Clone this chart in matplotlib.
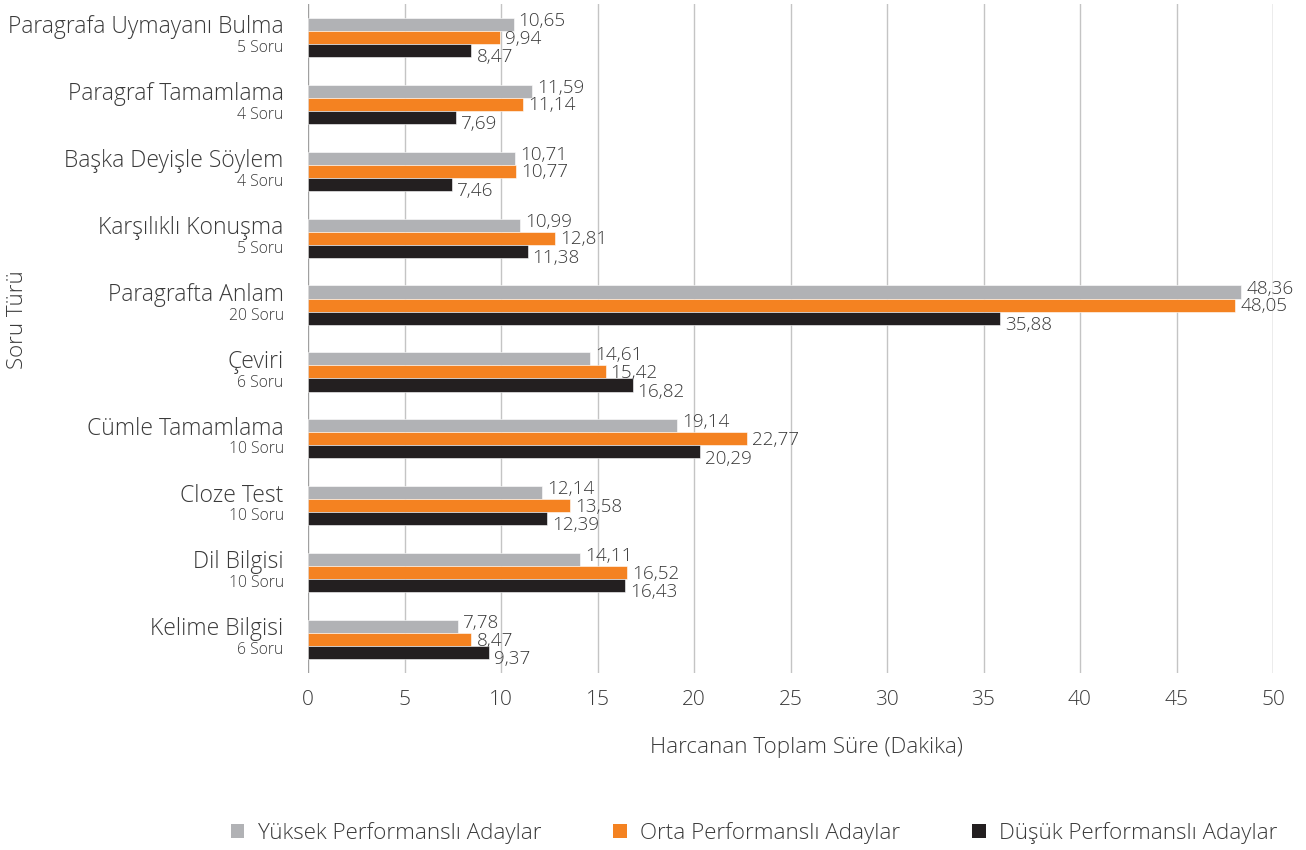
import matplotlib
matplotlib.use("Agg")
import matplotlib.pyplot as plt
from matplotlib.patches import Patch
from matplotlib.transforms import blended_transform_factory

TEXT_FONT = ['Open Sans', 'DejaVu Sans']
plt.rcParams['font.family'] = TEXT_FONT

categories = ["Paragrafa Uymayanı Bulma", "Paragraf Tamamlama", "Başka Deyişle Söylem",
              "Karşılıklı Konuşma", "Paragrafta Anlam", "Çeviri", "Cümle Tamamlama",
              "Cloze Test", "Dil Bilgisi", "Kelime Bilgisi"]
question_counts = ["5 Soru", "4 Soru", "4 Soru", "5 Soru", "20 Soru", "6 Soru",
                   "10 Soru", "10 Soru", "10 Soru", "6 Soru"]
series_names = ["Yüksek Performanslı Adaylar", "Orta Performanslı Adaylar",
                "Düşük Performanslı Adaylar"]
yuksek = [10.65, 11.59, 10.71, 10.99, 48.36, 14.61, 19.14, 12.14, 14.11, 7.78]
orta = [9.94, 11.14, 10.77, 12.81, 48.05, 15.42, 22.77, 13.58, 16.52, 8.47]
dusuk = [8.47, 7.69, 7.46, 11.38, 35.88, 16.82, 20.29, 12.39, 16.43, 9.37]
x_ticks = [0, 5, 10, 15, 20, 25, 30, 35, 40, 45, 50]

colors = ["#B1B2B5", "#F48221", "#231F20"]
text_color = "#3A3A3A"

W, H = 1306, 850
fig = plt.figure(figsize=(W / 100, H / 100), dpi=100)
ax = fig.add_axes([308 / W, 1 - 673 / H, (1273 - 308) / W, (673 - 4) / H])

bh = 0.195
offsets = [-bh, 0, bh]
label_dy = [2.5, -0.8, -4.8]  # points (positive = up)
for vals, col, off, dy in zip([yuksek, orta, dusuk], colors, offsets, label_dy):
    ys = [i + off for i in range(len(categories))]
    ax.barh(ys, vals, height=bh, color=col, edgecolor='white', linewidth=0.4, zorder=3)
    for y, v in zip(ys, vals):
        ax.annotate(f"{v:.2f}".replace('.', ','), xy=(v, y), xytext=(3.6, dy),
                    textcoords='offset points', va='center', ha='left',
                    fontsize=13.6, fontweight='light', color=text_color, zorder=4)

ax.set_xlim(0, 50)
ax.set_ylim(len(categories) - 0.5, -0.5)
ax.set_xticks(x_ticks)
ax.set_xticklabels([str(t) for t in x_ticks], fontsize=15, fontweight='light', color=text_color)
ax.tick_params(axis='x', length=0, pad=12)
ax.set_yticks([])
for sp in ax.spines.values():
    sp.set_visible(False)
for t in x_ticks:
    c = "#A0A0A0" if t in (0, 50) else "#C4C4C4"
    ax.axvline(t, color=c, linewidth=1.0, zorder=1)

trans = blended_transform_factory(ax.transAxes, ax.transData)
for i, (cat, cnt) in enumerate(zip(categories, question_counts)):
    ax.annotate(cat, xy=(0, i), xycoords=trans, xytext=(-17.5, 3), textcoords='offset points',
                ha='right', va='baseline', fontsize=16.5, fontweight='light', color=text_color)
    ax.annotate(cnt, xy=(0, i), xycoords=trans, xytext=(-17.5, -10.5), textcoords='offset points',
                ha='right', va='baseline', fontsize=11.3, fontweight='light', color=text_color)

fig.text(18 / W, 1 - 320 / H, "Soru Türü", rotation=90, ha='center', va='center',
         fontsize=16, fontweight='light', color=text_color)
fig.text(806 / W, 1 - 747 / H, "Harcanan Toplam Süre (Dakika)", ha='center', va='center',
         fontsize=16.1, fontweight='light', color=text_color)

handles = [Patch(facecolor=c, edgecolor='none') for c in colors]
fig.legend(handles, series_names, loc='center', bbox_to_anchor=(754 / W, 1 - 833 / H),
           ncol=3, frameon=False, prop={'size': 16.1, 'weight': 'light'},
           handlelength=0.62, handleheight=0.62,
           handletextpad=0.6, columnspacing=3.2, labelcolor=text_color)

fig.savefig("out.png", dpi=100)
